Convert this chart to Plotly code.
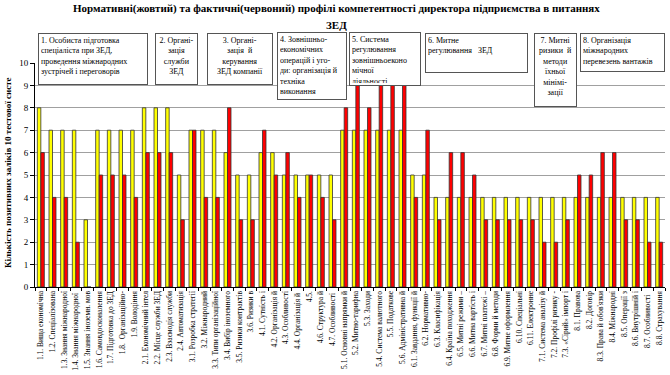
import plotly.graph_objects as go

categories = [
    "1.1. Вища економічна", "1.2. Спеціалізована", "1.3. Знання міжнародної",
    "1.4. Знання міжнародної ", "1.5. Знання іноземн. мов", "1.6. Самовдосконалення",
    "1.7. Підготовка до ЗЕД", "1.8.  Організаційно-", "1.9. Володіння",
    "2.1. Економічний інтел", "2.2. Місце служби ЗЕД", "2.3. Взаємодія служби",
    "2.4. Автоматизація", "3.1. Розробка стратегії", "3.2. Міжнародний",
    "3.3. Типи організаційної", "3.4. Вибір іноземного", "3.5. Ризики контрактів",
    "3.6. Ризики в", "4.1. Сутність і", "4.2. Організація й",
    "4.3. Особливості", "4.4. Організація й ", "4.5.",
    "4.6. Структура й", "4.7. Особливості ", "5.1. Основні напрямки й",
    "5.2. Митно-тарифна", "5.3. Заходи", "5.4. Система валютного",
    "5.5. Податкове", "5.6. Адміністративна й", "6.1. Завдання, функції й",
    "6.2. Нормативно-", "6.3. Класифікація", "6.4. Країна походження",
    "6.5. Митні режими –", "6.6. Митна вартість і", "6.7. Митні платежі –",
    "6.8. Форми й методи", "6.9. Митне оформлення", "6.10. Спеціальні",
    "6.11. Електронне", "7.1. Система аналізу й", "7.2. Профілі ризику -",
    "7.3. «Сірий» імпорт і", "8.1. Правова", "8.2. Договір",
    "8.3. Права й обов'язки", "8.4. Міжнародні", "8.5. Операції з",
    "8.6. Внутрішній і", "8.7. Особливості  ", "8.8. Страхування",
]

normative = [8, 7, 7, 7, 3, 7, 7, 7, 7,
             8, 8, 8, 5,
             7, 7, 7, 6, 5, 5,
             6, 6, 5, 5, 5, 5, 5,
             7, 7, 7, 7, 7, 7,
             5, 5, 4, 4, 4, 4, 4, 4, 4, 4, 4,
             4, 4, 4,
             4, 4, 4, 4, 4, 4, 4, 4]

actual = [6, 4, 4, 2, 0, 5, 5, 5, 4,
          6, 6, 6, 3,
          7, 4, 4, 8, 3, 3,
          7, 5, 6, 4, 5, 4, 3,
          8, 9, 8, 9, 9, 9,
          4, 7, 3, 6, 6, 5, 3, 3, 3, 3, 3,
          2, 2, 3,
          5, 5, 6, 6, 3, 3, 2, 2]

y_ticks = list(range(0, 11))

title_lines = ["Нормативні(жовтий) та фактичні(червоний) профілі компетентності директора підприємства в питаннях",
               "ЗЕД"]
y_title = "Кількість позитивних заліків 10 тестової систе"

group_boxes = [
    ("1. Особиста підготовка<br>спеціаліста при ЗЕД,<br>проведення міжнародних<br>зустрічей і переговорів", "left"),
    ("2. Органі-<br>зація<br>служби<br>ЗЕД", "center"),
    ("3. Органі-<br>зація  й<br>керування<br>ЗЕД компанії", "center"),
    ("4. Зовнішньо-<br>економічних<br>операцій і уго-<br>ди: організація й<br>техніка<br>виконання", "left"),
    ("5. Система<br>регулювання<br>зовнішньоеконо<br>мічної<br>діяльності", "left"),
    ("6. Митне<br>регулювання   ЗЕД", "left"),
    ("7. Митні<br>ризики  й<br>методи<br>їхньої<br>мінімі-<br>зації", "center"),
    ("8. Організація<br>міжнародних<br>перевезень вантажів", "left"),
]
# pixel boxes (x0, x1, y0, y1)
box_px = [(38, 148, 33, 85), (155, 198, 33, 85), (207, 273, 33, 85),
          (277, 347, 32, 100), (349, 421, 32, 86), (425, 528, 33, 73),
          (534, 577, 33, 107), (580, 665, 33, 72)]

W, H = 670, 375
L, R, T, B = 35, 5, 63, 88
pw, ph = W - L - R, H - T - B

SERIF = "Liberation Serif"

fig = go.Figure()
fig.add_trace(go.Bar(x=categories, y=normative, name="Нормативний",
                     marker=dict(color="#FFFF00", line=dict(color="#333333", width=0.8))))
fig.add_trace(go.Bar(x=categories, y=actual, name="Фактичний",
                     marker=dict(color="#FF0000", line=dict(color="#333333", width=0.8))))

annotations = []
for line, py in zip(title_lines, [8, 25]):
    annotations.append(dict(text="<b>" + line + "</b>", xref="paper", yref="paper",
                            x=(336 - L) / pw, y=(H - B - py) / ph,
                            xanchor="center", yanchor="middle", showarrow=False,
                            font=dict(family=SERIF, size=11, color="#000")))
annotations.append(dict(text="<b>" + y_title + "</b>", xref="paper", yref="paper",
                        x=(8 - L) / pw, y=(H - B - 173) / ph, textangle=-90,
                        xanchor="center", yanchor="middle", showarrow=False,
                        font=dict(family=SERIF, size=9, color="#000")))
for (txt, al), (x0, x1, y0, y1) in zip(group_boxes, box_px):
    annotations.append(dict(
        text=txt, xref="paper", yref="paper",
        x=(x0 - L) / pw, y=(H - B - y0) / ph, xanchor="left", yanchor="top",
        width=x1 - x0 - 6, height=y1 - y0 - 6, align=al, valign="top",
        showarrow=False, bgcolor="white", bordercolor="#555555", borderwidth=1,
        borderpad=2, font=dict(family=SERIF, size=8, color="#000")))

fig.update_layout(
    width=W, height=H,
    margin=dict(l=L, r=R, t=T, b=B, autoexpand=False),
    paper_bgcolor="white", plot_bgcolor="white",
    barmode="group", bargap=0.4, bargroupgap=0.0,
    showlegend=False,
    annotations=annotations,
    font=dict(family=SERIF, size=8, color="#000"),
)
fig.update_xaxes(type="category", tickangle=-90, tickfont=dict(family=SERIF, size=7.5),
                 tickmode="array", tickvals=categories, ticktext=categories,
                 showline=True, linecolor="#000", linewidth=1,
                 ticks="outside", ticklen=3, tickson="boundaries", tickcolor="#000",
                 showgrid=False, automargin=False)
fig.update_yaxes(range=[0, 10], tickvals=y_ticks, tickfont=dict(family=SERIF, size=9),
                 showline=True, linecolor="#000", linewidth=1,
                 ticks="outside", ticklen=4, tickcolor="#000",
                 showgrid=True, gridcolor="#A0A0A0", gridwidth=1,
                 zeroline=False, automargin=False)

fig.write_html("out.html", config={"displayModeBar": False},
               post_script="document.body.style.margin='0px';")
